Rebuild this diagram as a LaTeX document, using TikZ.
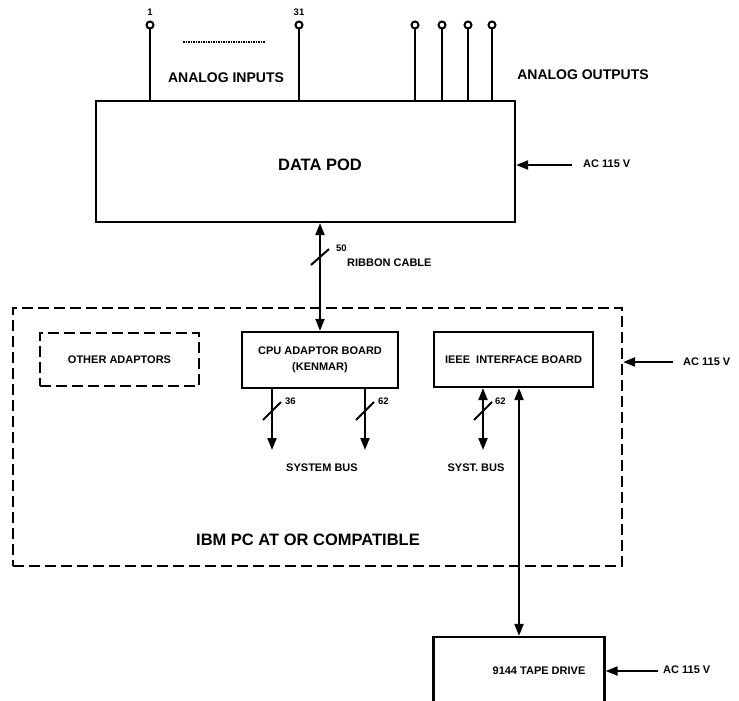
\documentclass[tikz,border=0pt]{standalone}
\usepackage{fontspec}
\setmainfont{Liberation Sans}
\usetikzlibrary{arrows.meta}
\tikzset{
  box/.style={draw, line width=2.2pt, rectangle, inner sep=0pt},
  dbox/.style={draw, line width=2.2pt, rectangle, inner sep=0pt, dash pattern=on 11pt off 5pt},
  big/.style={font=\bfseries\fontsize{16.5}{18}\selectfont, inner sep=0pt},
  mid/.style={font=\bfseries\fontsize{14}{16}\selectfont, inner sep=0pt},
  small/.style={font=\bfseries\fontsize{11}{12}\selectfont, inner sep=0pt},
  tiny/.style={font=\bfseries\fontsize{9.5}{10}\selectfont, inner sep=0pt},
  conn/.style={line width=2pt},
  tip/.style={-{Triangle[length=12pt,width=9pt]}},
  tips/.style={{Triangle[length=12pt,width=9pt]}-{Triangle[length=12pt,width=9pt]}},
  pin/.style={circle, draw, line width=2pt, minimum size=7pt, inner sep=0pt},
  slashmark/.style={line width=2pt}
}
\begin{document}
\begin{tikzpicture}[x=1pt,y=-1pt]
\clip (0,0) rectangle (739,701);
\fill[white] (0,0) rectangle (739,701);

% Data pod
\node[box, minimum width=419pt, minimum height=121pt] (pod) at (305.5,161.5) {};
\node[big] (podlabel) at (320,165) {DATA POD};

% pins
\node[pin] (p1) at (150,25) {};
\node[pin] (p31) at (299,25) {};
\node[pin] (o1) at (415,25) {};
\node[pin] (o2) at (442,25) {};
\node[pin] (o3) at (468,25) {};
\node[pin] (o4) at (492,25) {};
\foreach \p in {p1,p31,o1,o2,o3,o4}
  \draw[conn] (\p.south) -- (\p |- pod.north);
\node[tiny] (l1) at (150,12) {1};
\node[tiny] (l31) at (299,12) {31};
\coordinate (dotA) at (183,42);
\coordinate (dotB) at (265,42);
\draw[line width=1.6pt, dash pattern=on 1.5pt off 1pt] (dotA) -- (dotB);
\node[mid] (ain) at (226,78) {ANALOG INPUTS};
\node[mid] (aout) at (583,75) {ANALOG OUTPUTS};

% AC to pod
\node[small, anchor=west] (ac1) at (583,164) {AC 115 V};
\coordinate (ac1t) at (572,165);
\draw[conn, tip] (ac1t) -- (pod.east |- ac1t);

% PC dashed box
\node[dbox, minimum width=609pt, minimum height=258pt] (pc) at (317.5,437) {};
\node[big] (pclabel) at (308,540) {IBM PC AT OR COMPATIBLE};

% boards
\node[dbox, minimum width=159pt, minimum height=53pt, small] (other) at (119.5,359.5) {OTHER ADAPTORS};
\node[box, minimum width=156pt, minimum height=56pt, small, align=center] (cpu) at (320,360)
  {CPU ADAPTOR BOARD\\[4pt](KENMAR)};
\node[box, minimum width=159pt, minimum height=55pt, small] (ieee) at (513.5,359.5) {IEEE\ \ INTERFACE BOARD};

% ribbon cable
\draw[conn, tips] (pod.south -| cpu.north) -- (cpu.north);
\coordinate (rs1) at (311,265);
\coordinate (rs2) at (329,249);
\draw[slashmark] (rs1) -- (rs2);
\node[tiny, anchor=west] (n50) at (336,248) {50};
\node[small, anchor=west] (ribbon) at (347,263) {RIBBON CABLE};

% system bus arrows
\coordinate (b36) at (272,450);
\coordinate (b62) at (365,450);
\coordinate (bi) at (483,450);
\draw[conn, tip] (cpu.south -| b36) -- (b36);
\draw[conn, tip] (cpu.south -| b62) -- (b62);
\draw[conn, tips] (ieee.south -| bi) -- (bi);
\foreach \x in {272,365,483}
  \draw[slashmark] (\x-9,420) -- (\x+9,402);
\node[tiny, anchor=west] (n36) at (285,401) {36};
\node[tiny, anchor=west] (n62) at (378,401) {62};
\node[tiny, anchor=west] (n62b) at (495,401) {62};
\node[small] (sysbus) at (322,468) {SYSTEM BUS};
\node[small] (systbus) at (476,468) {SYST. BUS};

% AC to PC
\node[small, anchor=west] (ac2) at (683,362) {AC 115 V};
\coordinate (ac2t) at (673,362);
\draw[conn, tip] (ac2t) -- (pc.east |- ac2t);

% tape drive
\node[box, minimum width=171pt, minimum height=68pt] (tape) at (519,671) {};
\node[small] (tapelabel) at (539,671) {9144 TAPE DRIVE};
\draw[conn, tips] (ieee.south -| tape.north) -- (tape.north);
\node[small, anchor=west] (ac3) at (663,670) {AC 115 V};
\coordinate (ac3t) at (658,671);
\draw[conn, tip] (ac3t) -- (tape.east |- ac3t);
\end{tikzpicture}
\end{document}
